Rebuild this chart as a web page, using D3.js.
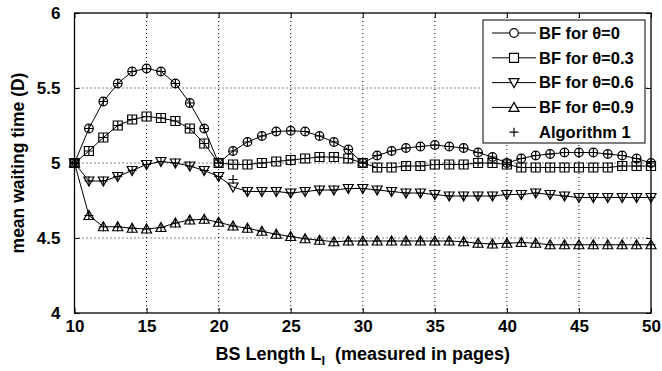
<!DOCTYPE html>
<html>
<head>
<meta charset="utf-8">
<script src="https://cdn.jsdelivr.net/npm/d3@7"></script>
<style>
  body { margin: 0; background: #fff; }
  svg text { font-family: Arial, "Liberation Sans", sans-serif; font-weight: bold; fill: #000; }
</style>
</head>
<body>
<script>
// BS length (pages)
var lengths = [10,11,12,13,14,15,16,17,18,19,20,21,22,23,24,25,26,27,28,29,30,
               31,32,33,34,35,36,37,38,39,40,41,42,43,44,45,46,47,48,49,50];

// mean waiting time, brute force, per theta
var bf00 = [5.00,5.23,5.41,5.53,5.61,5.63,5.61,5.53,5.40,5.23,5.00,
            5.08,5.14,5.18,5.21,5.215,5.21,5.18,5.14,5.09,5.00,
            5.05,5.08,5.10,5.11,5.12,5.11,5.10,5.07,5.04,5.00,
            5.03,5.05,5.06,5.07,5.07,5.07,5.06,5.05,5.03,5.00];
var bf03 = [5.00,5.08,5.17,5.25,5.29,5.31,5.30,5.28,5.23,5.13,5.00,
            4.99,4.99,5.00,5.01,5.02,5.03,5.04,5.04,5.03,5.00,
            4.97,4.97,4.98,4.98,4.99,4.99,4.99,5.00,5.00,4.99,
            4.97,4.97,4.97,4.97,4.97,4.97,4.97,4.98,4.98,4.98];
var bf06 = [5.00,4.88,4.88,4.91,4.95,4.99,5.01,5.00,4.98,4.95,4.91,
            4.84,4.81,4.81,4.81,4.80,4.81,4.82,4.82,4.83,4.83,
            4.82,4.81,4.80,4.80,4.79,4.78,4.78,4.78,4.78,4.79,
            4.79,4.80,4.79,4.78,4.77,4.77,4.77,4.77,4.77,4.77];
var bf09 = [5.00,4.65,4.575,4.575,4.565,4.56,4.57,4.60,4.62,4.625,4.605,
            4.58,4.565,4.545,4.525,4.51,4.495,4.485,4.475,4.48,4.48,
            4.48,4.48,4.48,4.48,4.48,4.48,4.475,4.465,4.46,4.465,
            4.47,4.465,4.455,4.455,4.455,4.455,4.455,4.455,4.455,4.455];

// Algorithm 1 sits on the BF points except one for theta=0.6
var alg06 = [5.00,4.88,4.88,4.91,4.95,4.99,5.01,5.00,4.98,4.95,4.91,
             4.89,4.81,4.81,4.81,4.80,4.81,4.82,4.82,4.83,4.83,
             4.82,4.81,4.80,4.80,4.79,4.78,4.78,4.78,4.78,4.79,
             4.79,4.80,4.79,4.78,4.77,4.77,4.77,4.77,4.77,4.77];

var xTicks = [10,15,20,25,30,35,40,45,50];
var yTicks = [4,4.5,5,5.5,6];
var legendLabels = ["BF for \u03b8=0","BF for \u03b8=0.3","BF for \u03b8=0.6","BF for \u03b8=0.9","Algorithm 1"];

var W = 662, H = 371;
var margin = {top: 13, right: 11, bottom: 58, left: 74.5},
    width = W - margin.left - margin.right,
    height = H - margin.top - margin.bottom;

var svg = d3.select("body").append("svg")
    .attr("width", W)
    .attr("height", H);

var g = svg.append("g")
    .attr("transform", "translate(" + margin.left + "," + margin.top + ")");

var x = d3.scaleLinear().domain([10, 50]).range([0, width]);
var y = d3.scaleLinear().domain([4, 6]).range([height, 0]);

// dotted grid
g.append("g").selectAll("line").data(xTicks.slice(1, -1)).enter().append("line")
    .attr("x1", d => x(d)).attr("x2", d => x(d))
    .attr("y1", 0).attr("y2", height)
    .attr("stroke", "#000").attr("stroke-width", 1).attr("stroke-dasharray", "1,3");
g.append("g").selectAll("line").data(yTicks.slice(1, -1)).enter().append("line")
    .attr("y1", d => y(d)).attr("y2", d => y(d))
    .attr("x1", 0).attr("x2", width)
    .attr("stroke", "#000").attr("stroke-width", 1).attr("stroke-dasharray", "1,3");

// axes (ticks inward like matlab)
var xAxis = d3.axisBottom(x).tickValues(xTicks).tickSizeInner(-5).tickSizeOuter(0).tickPadding(7);
var yAxis = d3.axisLeft(y).tickValues(yTicks).tickSizeInner(-5).tickSizeOuter(0).tickPadding(14)
    .tickFormat(d3.format("~g"));

g.append("g").attr("transform", "translate(0," + height + ")").call(xAxis);
g.append("g").call(yAxis);
g.append("g").call(d3.axisTop(x).tickValues(xTicks).tickSizeInner(-5).tickSizeOuter(0).tickFormat(""));
g.append("g").attr("transform", "translate(" + width + ",0)")
    .call(d3.axisRight(y).tickValues(yTicks).tickSizeInner(-5).tickSizeOuter(0).tickFormat(""));

g.selectAll(".domain").remove();
g.selectAll(".tick line").attr("stroke", "#000");
g.selectAll(".tick text").style("font-size", "17px").attr("fill", "#000");

g.append("rect")
    .attr("width", width).attr("height", height)
    .attr("fill", "none").attr("stroke", "#000").attr("stroke-width", 1.3);

// marker shapes
var shapes = {
  circle: "M4.3,0A4.3,4.3 0 1,1 -4.3,0A4.3,4.3 0 1,1 4.3,0Z",
  square: "M-4.5,-4.5H4.5V4.5H-4.5Z",
  down: "M0,5L5,-4H-5Z",
  up: "M0,-5L5,4H-5Z",
  plus: "M-4.5,0H4.5M0,-4.5V4.5"
};

var series = [
  {values: bf00, shape: "circle"},
  {values: bf03, shape: "square"},
  {values: bf06, shape: "down"},
  {values: bf09, shape: "up"}
];
var alg = [bf00, bf03, alg06, bf09];

var line = d3.line()
    .x((d, i) => x(lengths[i]))
    .y(d => y(d));

series.forEach(function(s) {
  g.append("path")
      .datum(s.values)
      .attr("d", line)
      .attr("fill", "none")
      .attr("stroke", "#000")
      .attr("stroke-width", 1);
  g.append("g").selectAll("path").data(s.values).enter().append("path")
      .attr("transform", (d, i) => "translate(" + x(lengths[i]) + "," + y(d) + ")")
      .attr("d", shapes[s.shape])
      .attr("fill", "none")
      .attr("stroke", "#000")
      .attr("stroke-width", 1.2);
});

alg.forEach(function(vals) {
  g.append("g").selectAll("path").data(vals).enter().append("path")
      .attr("transform", (d, i) => "translate(" + x(lengths[i]) + "," + y(d) + ")")
      .attr("d", shapes.plus)
      .attr("fill", "none")
      .attr("stroke", "#000")
      .attr("stroke-width", 1.2);
});

// legend
var leg = svg.append("g").attr("transform", "translate(483,20)");
leg.append("rect")
    .attr("width", 162).attr("height", 123)
    .attr("fill", "#fff").attr("stroke", "#000").attr("stroke-width", 1);

var legShapes = ["circle", "square", "down", "up", "plus"];
legendLabels.forEach(function(lbl, i) {
  var ly = 13 + i * 24.8;
  if (i < 4) {
    leg.append("line")
        .attr("x1", 9).attr("x2", 53).attr("y1", ly).attr("y2", ly)
        .attr("stroke", "#000").attr("stroke-width", 1);
  }
  leg.append("path")
      .attr("transform", "translate(31," + ly + ")")
      .attr("d", shapes[legShapes[i]])
      .attr("fill", i < 4 ? "#fff" : "none")
      .attr("stroke", "#000").attr("stroke-width", 1.2);
  leg.append("text")
      .attr("x", 56).attr("y", ly).attr("dy", "0.35em")
      .style("font-size", "16.5px")
      .text(lbl);
});

// axis titles
var xt = svg.append("text")
    .attr("x", margin.left + width / 2).attr("y", 360)
    .attr("text-anchor", "middle")
    .style("font-size", "18px");
xt.append("tspan").text("BS Length L");
xt.append("tspan").attr("dy", 5).style("font-size", "13px").text("l");
xt.append("tspan").attr("dy", -5).text("\u00a0 (measured in pages)");

svg.append("text")
    .attr("transform", "translate(24," + (margin.top + height / 2) + ") rotate(-90)")
    .attr("text-anchor", "middle")
    .style("font-size", "17.5px")
    .text("mean waiting time (D)");
</script>
</body>
</html>
